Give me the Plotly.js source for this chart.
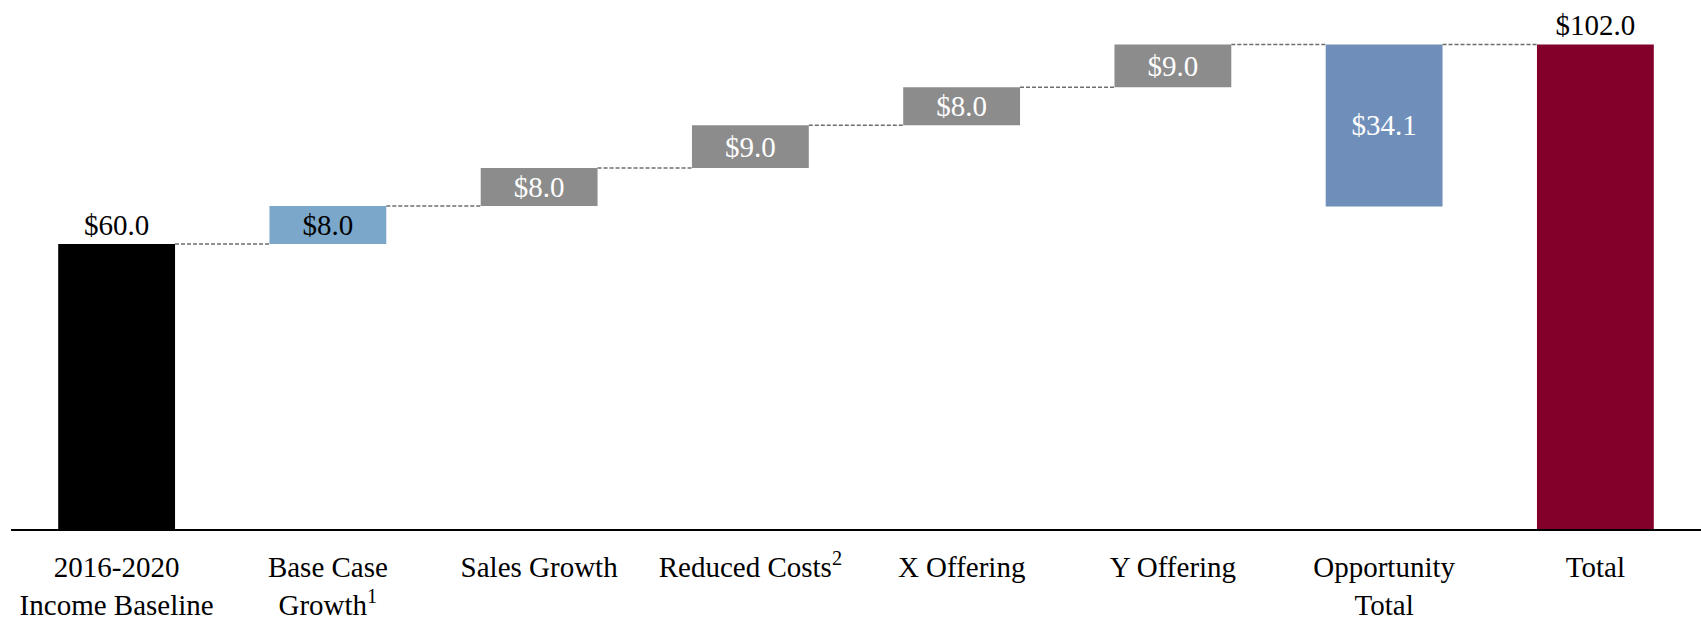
<!DOCTYPE html>
<html>
<head>
<meta charset="utf-8">
<script src="https://cdn.plot.ly/plotly-3.0.1.min.js"></script>
<style>html,body{margin:0;padding:0;background:#fff;}#chart{width:1701px;height:620px;}</style>
</head>
<body>
<div id="chart"></div>
<script>
const categories = ["2016-2020<br>Income Baseline", "Base Case<br>Growth<sup>1</sup>", "Sales Growth", "Reduced Costs<sup>2</sup>", "X Offering", "Y Offering", "Opportunity<br>Total", "Total"];
const values = [60.0, 8.0, 8.0, 9.0, 8.0, 9.0, 34.1, 102.0];
const kinds = ["absolute", "relative", "relative", "relative", "relative", "relative", "group", "total"];
const colors = ["#000000", "#7ba7cb", "#8c8c8c", "#8c8c8c", "#8c8c8c", "#8c8c8c", "#6f8fba", "#82002a"];
const textColors = ["#000000", "#000000", "#ffffff", "#ffffff", "#ffffff", "#ffffff", "#ffffff", "#000000"];
const textPos = ["outside", "inside", "inside", "inside", "inside", "inside", "inside", "outside"];

const bases = [], tops = [];
let running = 0;
values.forEach((v, i) => {
  let b;
  if (kinds[i] === "absolute") { b = 0; running = v; }
  else if (kinds[i] === "relative") { b = running; running += v; }
  else if (kinds[i] === "group") { b = running - v; }
  else { b = 0; }
  bases.push(b); tops.push(b + v);
});
const labels = values.map(v => "$" + v.toFixed(1));
const barWidth = 0.553;

const shapes = [];
for (let i = 0; i < values.length - 1; i++) {
  shapes.push({
    type: "line", xref: "x", yref: "y",
    x0: i + barWidth / 2, x1: i + 1 - barWidth / 2,
    y0: tops[i], y1: tops[i],
    line: {color: "#6e6e6e", width: 1.4, dash: "4px,2px"}
  });
}

const trace = {
  type: "bar",
  x: categories.map((c, i) => i),
  y: values,
  base: bases,
  width: barWidth,
  marker: {color: colors, line: {width: 0}},
  text: labels,
  textposition: textPos,
  insidetextanchor: "middle",
  constraintext: "none",
  cliponaxis: false,
  textfont: {family: "Liberation Serif, serif", size: 29, color: textColors},
  hoverinfo: "none"
};

const layout = {
  width: 1701, height: 620,
  margin: {l: 11, r: 0, t: 25, b: 91},
  paper_bgcolor: "#ffffff", plot_bgcolor: "#ffffff",
  showlegend: false,
  font: {family: "Liberation Serif, serif", size: 29, color: "#000000"},
  xaxis: {
    range: [-0.5, 7.5],
    tickmode: "array",
    tickvals: categories.map((c, i) => i),
    ticktext: categories,
    showline: true, linecolor: "#000000", linewidth: 1.5,
    showgrid: false, zeroline: false, ticks: "",
    ticklabelstandoff: 12,
    tickfont: {family: "Liberation Serif, serif", size: 29, color: "#000000"}
  },
  yaxis: {range: [0, 106.1], visible: false, showgrid: false, zeroline: false},
  shapes: shapes
};

Plotly.newPlot("chart", [trace], layout, {displayModeBar: false, staticPlot: true});
</script>
</body>
</html>
